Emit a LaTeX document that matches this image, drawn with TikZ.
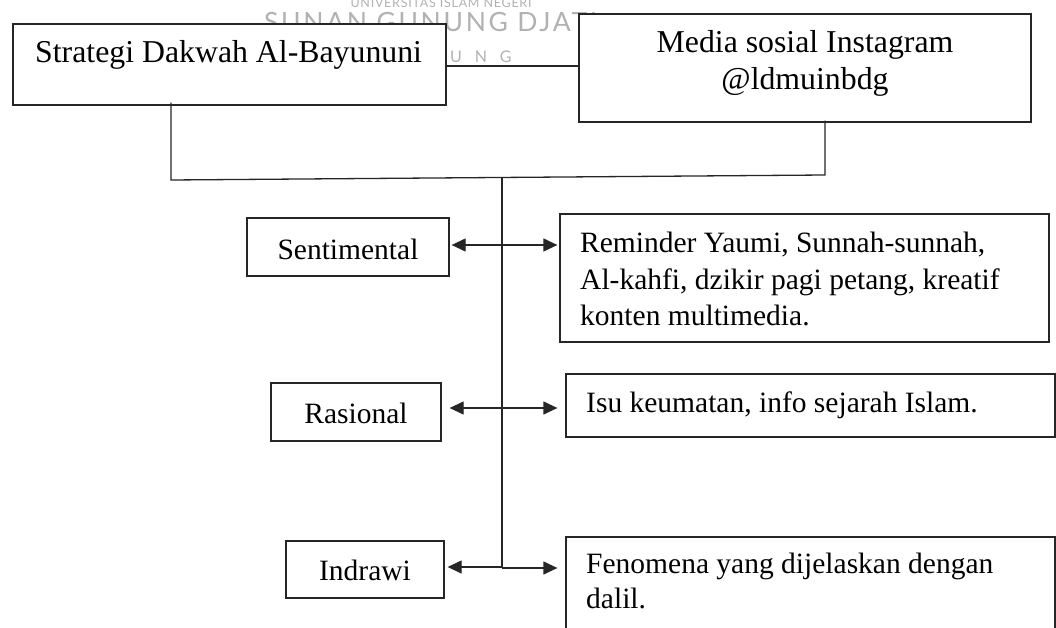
\documentclass[tikz,border=0pt]{standalone}
\usepackage{fontspec}
\setmainfont{Liberation Serif}
\newfontfamily\wmfont{Lato}
\usetikzlibrary{arrows.meta}
\begin{document}
\begin{tikzpicture}[x=1pt,y=-1pt,
  box/.style={draw=black!85,line width=1.3pt,fill=white,inner sep=0pt},
  big/.style={font=\fontsize{31.8}{36}\selectfont,inner sep=0pt},
  small/.style={font=\fontsize{29.5}{35}\selectfont,inner sep=0pt},
  wm/.style={text=black!30,inner sep=0pt},
  link/.style={draw=black!85,line width=1.3pt},
  dbl/.style={link,{Triangle[length=14pt,width=13pt]}-{Triangle[length=14pt,width=13pt]}},
  one/.style={link,-{Triangle[length=14pt,width=13pt]}}]
\useasboundingbox (0,0) rectangle (1056,628);
\clip (0,0) rectangle (1056,628);
\fill[white] (0,0) rectangle (1056,628);
% watermark
\node[wm,anchor=base,font=\wmfont\fontsize{12.5}{12.5}\selectfont\addfontfeatures{LetterSpace=6}] (wm1) at (441,8) {UNIVERSITAS ISLAM NEGERI};
\node[wm,anchor=base west,font=\wmfont\fontsize{26.5}{26.5}\selectfont\addfontfeatures{LetterSpace=10}] (wm2) at (264,32) {SUNAN GUNUNG DJATI};
\node[wm,anchor=base west,font=\wmfont\fontsize{16}{16}\selectfont\addfontfeatures{LetterSpace=80}] (wm3) at (450,63) {UNG};
% junction coordinates
\coordinate (j0) at (0,66);
\coordinate (cL) at (171,180);
\coordinate (cR) at (825,175);
\coordinate (cM) at (502,178);
\coordinate (cB) at (502,568);
\coordinate (r1) at (0,245);
\coordinate (r2) at (0,408);
\coordinate (r3a) at (502,567);
\coordinate (r3b) at (502,568);
% top boxes
\node[box,minimum width=433pt,minimum height=81pt] (b1) at (229.5,64.5) {};
\node[box,minimum width=452pt,minimum height=108pt] (b2) at (805,68) {};
\node[big,anchor=base west] (t1) at (35,63) {Strategi Dakwah Al-Bayununi};
\node[big,anchor=base] (t2a) at (805,53) {Media sosial Instagram};
\node[big,anchor=base] (t2b) at (805,90) {@ldmuinbdg};
% lower boxes
\node[box,minimum width=202pt,minimum height=58pt] (sent) at (348,247) {};
\node[small,anchor=base] (tsent) at (348,259) {Sentimental};
\node[box,minimum width=489pt,minimum height=128pt] (rem) at (804.5,278) {};
\node[small,anchor=base west] (trem1) at (580,252) {Reminder Yaumi, Sunnah-sunnah,};
\node[small,anchor=base west] (trem2) at (580,289) {Al-kahfi, dzikir pagi petang, kreatif};
\node[small,anchor=base west] (trem3) at (580,325) {konten multimedia.};
\node[box,minimum width=170pt,minimum height=58pt] (ras) at (356,412) {};
\node[small,anchor=base] (tras) at (356,423) {Rasional};
\node[box,minimum width=489pt,minimum height=63pt] (isu) at (810.5,405.5) {};
\node[small,anchor=base west] (tisu) at (586,412) {Isu keumatan, info sejarah Islam.};
\node[box,minimum width=158pt,minimum height=57pt] (ind) at (365,569.5) {};
\node[small,anchor=base] (tind) at (365,580) {Indrawi};
\node[box,minimum width=489pt,minimum height=110pt] (fen) at (810.5,592) {};
\node[small,anchor=base west] (tfen1) at (586,573) {Fenomena yang dijelaskan dengan};
\node[small,anchor=base west] (tfen2) at (586,608) {dalil.};
% connectors
\draw[link] (b1.east |- j0) -- (b2.west |- j0);
\draw[link] ([yshift=3pt]b1.south -| cL) -- (cL) -- (cR) -- ([yshift=2pt]b2.south -| cR);
\draw[link] (cM) -- (cB);
\draw[dbl] ([xshift=2pt]sent.east |- r1) -- ([xshift=-2pt]rem.west |- r1);
\draw[dbl] ([xshift=8pt]ras.east |- r2) -- ([xshift=-8pt]isu.west |- r2);
\draw[one] (r3a) -- ([xshift=3pt]ind.east |- r3a);
\draw[one] (r3b) -- ([xshift=-8pt]fen.west |- r3b);
\end{tikzpicture}
\end{document}
